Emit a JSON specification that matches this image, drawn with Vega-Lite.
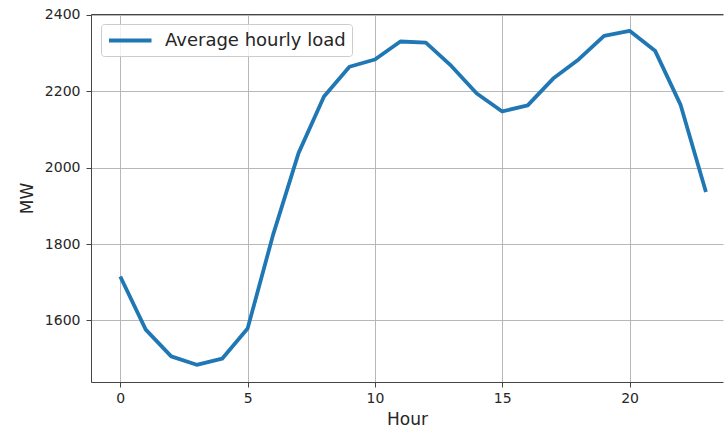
{
  "$schema": "https://vega.github.io/schema/vega-lite/v6.json",
  "width": 632,
  "height": 368,
  "autosize": {"type": "none"},
  "padding": {"left": 91, "top": 14, "right": 2, "bottom": 49},
  "background": "white",
  "config": {
    "font": "DejaVu Sans",
    "view": {"stroke": null},
    "axis": {
      "domainColor": "#444444",
      "domainWidth": 1,
      "tickColor": "#444444",
      "tickSize": 5,
      "tickWidth": 1,
      "labelColor": "#262626",
      "labelFont": "DejaVu Sans",
      "labelFontSize": 14,
      "titleFont": "DejaVu Sans",
      "titleFontSize": 17,
      "titleFontWeight": "normal",
      "titleColor": "#262626",
      "gridColor": "#b0b0b0",
      "gridWidth": 0.9,
      "gridOpacity": 1
    }
  },
  "data": {
    "values": [
      {"hour": 0, "load": 1715, "series": "Average hourly load"},
      {"hour": 1, "load": 1576, "series": "Average hourly load"},
      {"hour": 2, "load": 1506, "series": "Average hourly load"},
      {"hour": 3, "load": 1484, "series": "Average hourly load"},
      {"hour": 4, "load": 1500, "series": "Average hourly load"},
      {"hour": 5, "load": 1579, "series": "Average hourly load"},
      {"hour": 6, "load": 1824, "series": "Average hourly load"},
      {"hour": 7, "load": 2038, "series": "Average hourly load"},
      {"hour": 8, "load": 2186, "series": "Average hourly load"},
      {"hour": 9, "load": 2264, "series": "Average hourly load"},
      {"hour": 10, "load": 2283, "series": "Average hourly load"},
      {"hour": 11, "load": 2330, "series": "Average hourly load"},
      {"hour": 12, "load": 2327, "series": "Average hourly load"},
      {"hour": 13, "load": 2266, "series": "Average hourly load"},
      {"hour": 14, "load": 2194, "series": "Average hourly load"},
      {"hour": 15, "load": 2147, "series": "Average hourly load"},
      {"hour": 16, "load": 2163, "series": "Average hourly load"},
      {"hour": 17, "load": 2233, "series": "Average hourly load"},
      {"hour": 18, "load": 2283, "series": "Average hourly load"},
      {"hour": 19, "load": 2345, "series": "Average hourly load"},
      {"hour": 20, "load": 2358, "series": "Average hourly load"},
      {"hour": 21, "load": 2306, "series": "Average hourly load"},
      {"hour": 22, "load": 2165, "series": "Average hourly load"},
      {"hour": 23, "load": 1936, "series": "Average hourly load"}
    ]
  },
  "layer": [
    {
      "mark": {"type": "line", "strokeWidth": 3.8, "strokeJoin": "round", "strokeCap": "butt", "clip": true},
      "encoding": {
        "x": {
          "field": "hour",
          "type": "quantitative",
          "scale": {"domain": [-1.15, 23.67], "nice": false, "zero": false},
          "axis": {"orient": "bottom", "values": [0, 5, 10, 15, 20], "format": "d", "title": "Hour", "labelPadding": 4, "titlePadding": 6, "grid": true, "labelFlush": false}
        },
        "y": {
          "field": "load",
          "type": "quantitative",
          "scale": {"domain": [1439, 2402], "nice": false, "zero": false},
          "axis": {"values": [1600, 1800, 2000, 2200, 2400], "format": "d", "title": "MW", "labelPadding": 6, "titlePadding": 8, "grid": true, "labelFlush": false}
        },
        "color": {
          "field": "series",
          "type": "nominal",
          "scale": {"range": ["#1f77b4"]},
          "legend": {
            "title": null,
            "orient": "top-left",
            "offset": 10,
            "symbolType": "M-1,0H4",
            "symbolSize": 289,
            "symbolStrokeWidth": 3.8,
            "labelFontSize": 18,
            "labelFont": "DejaVu Sans",
            "labelColor": "#262626",
            "labelOffset": 37,
            "labelLimit": 0,
            "padding": 6,
            "fillColor": "rgba(255,255,255,0.8)",
            "strokeColor": "#cccccc",
            "cornerRadius": 3
          }
        }
      }
    },
    {
      "mark": {"type": "line", "opacity": 0},
      "encoding": {
        "x": {
          "field": "hour",
          "type": "quantitative",
          "axis": {"orient": "top", "labels": false, "ticks": false, "grid": false, "domain": true, "title": null}
        },
        "y": {"field": "load", "type": "quantitative"}
      }
    }
  ],
  "resolve": {"axis": {"x": "independent"}}
}
